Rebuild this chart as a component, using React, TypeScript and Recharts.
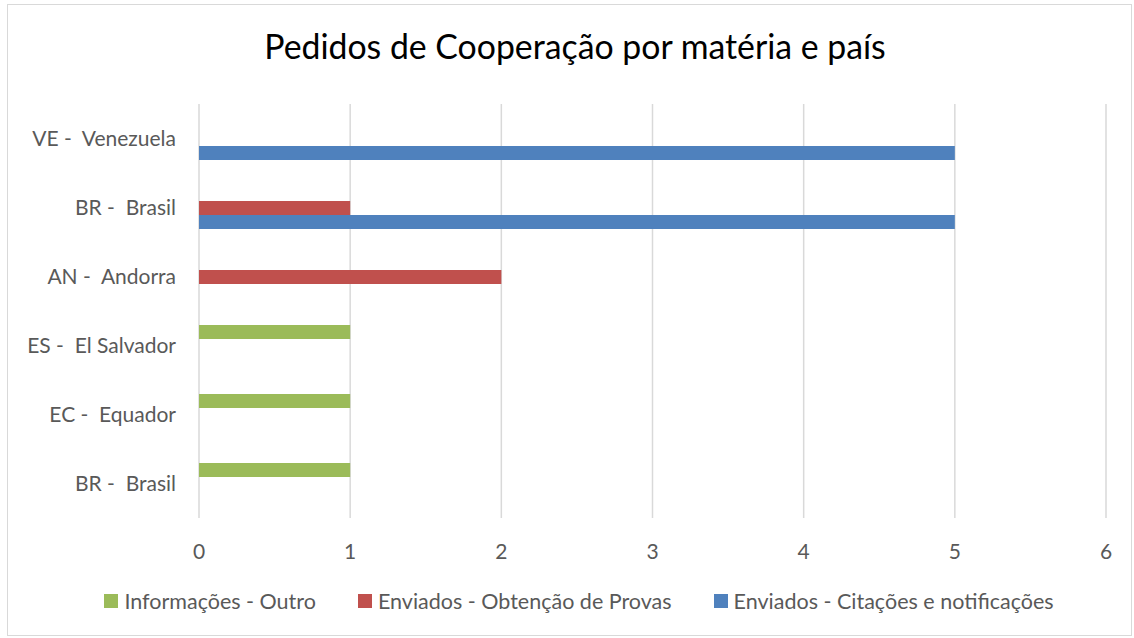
import React from "react";
import { BarChart, Bar, XAxis, YAxis, CartesianGrid, Legend } from "recharts";

const categories = [
  "VE -  Venezuela",
  "BR -  Brasil",
  "AN -  Andorra",
  "ES -  El Salvador",
  "EC -  Equador",
  "BR -  Brasil",
];
const informacoesOutro = [0, 0, 0, 1, 1, 1];
const enviadosProvas = [0, 1, 2, 0, 0, 0];
const enviadosCitacoes = [5, 5, 0, 0, 0, 0];
const xTicks = [0, 1, 2, 3, 4, 5, 6];

const seriesNames = [
  "Informações - Outro",
  "Enviados - Obtenção de Provas",
  "Enviados - Citações e notificações",
];
const seriesColors = ["#9BBB59", "#C0504D", "#4F81BD"];

const data = categories.map((c, i) => ({
  pais: c,
  s0: informacoesOutro[i] || null,
  s1: enviadosProvas[i] || null,
  s2: enviadosCitacoes[i] || null,
}));

const FONT = "Lato, 'Open Sans', sans-serif";
const LABEL = "#595959";
const FS = 21;

const YTick = (props: any) => {
  const { x, y, payload } = props;
  return (
    <text
      x={x}
      y={y}
      dy="0.355em"
      textAnchor="end"
      fill={LABEL}
      fontSize={FS}
      fontFamily={FONT}
      style={{ whiteSpace: "pre" }}
    >
      {payload.value}
    </text>
  );
};

const LegendContent = () => (
  <div
    style={{
      display: "flex",
      justifyContent: "center",
      alignItems: "center",
      gap: 42,
      fontFamily: FONT,
      fontSize: 21.5,
      color: LABEL,
      whiteSpace: "pre",
    }}
  >
    {seriesNames.map((n, i) => (
      <div key={n} style={{ display: "flex", alignItems: "center" }}>
        <span
          style={{
            display: "inline-block",
            width: 14,
            height: 14,
            background: seriesColors[i],
            marginRight: 6,
          }}
        />
        <span>{n}</span>
      </div>
    ))}
  </div>
);

export default function App() {
  return (
    <div style={{ position: "absolute", left: 0, top: 0, width: 1134, height: 638, background: "#fff" }}>
      <div
        style={{
          position: "absolute",
          left: 7,
          top: 4,
          width: 1123,
          height: 630,
          border: "1.5px solid #D9D9D9",
        }}
      />
      <div
        style={{
          position: "absolute",
          left: 8,
          width: 1134,
          top: 26,
          textAlign: "center",
          fontFamily: FONT,
          fontSize: 33.8,
          color: "#000",
          whiteSpace: "pre",
        }}
      >
        Pedidos de Cooperação por matéria e país
      </div>
      <BarChart
        width={1134}
        height={638}
        data={data}
        layout="vertical"
        margin={{ top: 104, right: 28, bottom: 80, left: 0 }}
        barSize={14}
        barGap={0}
        style={{ position: "absolute", left: 0, top: 0 }}
      >
        <CartesianGrid horizontal={false} stroke="#D9D9D9" strokeWidth={1.5} />
        <XAxis
          type="number"
          domain={[0, 6]}
          ticks={xTicks}
          axisLine={false}
          tickLine={false}
          tickSize={0}
          tickMargin={26}
          height={40}
          tick={{ fill: LABEL, fontSize: FS, fontFamily: FONT }}
        />
        <YAxis
          type="category"
          dataKey="pais"
          width={199}
          axisLine={false}
          tickLine={false}
          tickSize={0}
          tickMargin={23}
          tick={<YTick />}
          interval={0}
        />
        <Legend
          layout="horizontal"
          verticalAlign="middle"
          align="center"
          content={<LegendContent />}
          wrapperStyle={{ top: 588, left: 12, width: 1134 }}
        />
        <Bar dataKey="s0" name={seriesNames[0]} fill={seriesColors[0]} isAnimationActive={false} />
        <Bar dataKey="s1" name={seriesNames[1]} fill={seriesColors[1]} isAnimationActive={false} />
        <Bar dataKey="s2" name={seriesNames[2]} fill={seriesColors[2]} isAnimationActive={false} />
      </BarChart>
    </div>
  );
}
